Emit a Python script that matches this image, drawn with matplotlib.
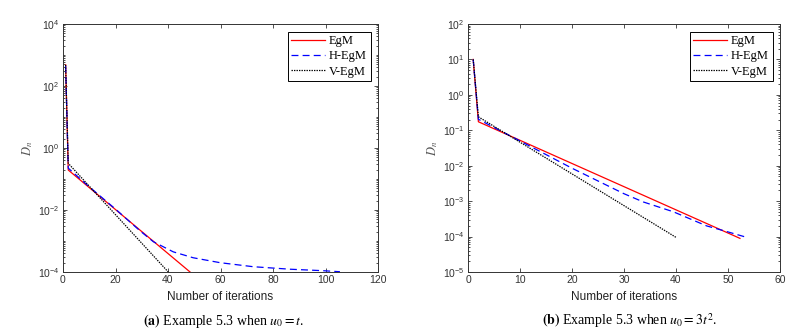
import numpy as np
import matplotlib
matplotlib.use("Agg")
import matplotlib.pyplot as plt
from matplotlib.ticker import LogLocator, NullFormatter, FixedLocator

plt.rcParams['font.family'] = ['Liberation Sans', 'DejaVu Sans']
plt.rcParams['mathtext.fontset'] = 'stix'
plt.rcParams['lines.scale_dashes'] = False

# Data, panel (a): Example 5.3 when u0 = t
a_egm_x = [1, 2, 48.4]
a_egm_y = [480, 0.195, 1.0e-4]
a_hegm_x = [1, 2, 10, 20, 29.3, 34.4, 42, 49.6, 59.8, 72.5, 86.5, 99.2, 105.5]
a_hegm_y = [450, 0.224, 0.056, 0.0107, 2.14e-3, 9.5e-4, 4.47e-4, 2.88e-4,
            2.0e-4, 1.48e-4, 1.23e-4, 1.10e-4, 1.02e-4]
a_vegm_x = [1, 2, 40.1]
a_vegm_y = [480, 0.32, 1.0e-4]

# Data, panel (b): Example 5.3 when u0 = 3t^2
b_egm_x = [1, 2, 52.3]
b_egm_y = [10, 0.174, 8.9e-5]
b_hegm_x = [1, 2, 10, 20, 30, 33.7, 39.5, 45.9, 49.8, 53.6]
b_hegm_y = [10, 0.204, 0.05, 8.5e-3, 1.62e-3, 9.5e-4, 5.0e-4, 2.0e-4, 1.38e-4, 9.5e-5]
b_vegm_x = [1, 2, 40]
b_vegm_y = [10, 0.24, 9.5e-5]

labels = ['EgM', 'H-EgM', 'V-EgM']
captions = [r'$\mathbf{(a)}$ Example 5.3 when $u_0 = t$.',
            r'$\mathbf{(b)}$ Example 5.3 when $u_0 = 3t^2$.']

fig = plt.figure(figsize=(8, 3.33), dpi=100)
W, H = 800, 333
ax1 = fig.add_axes([63 / W, 61 / H, 315 / W, 248 / H])
ax2 = fig.add_axes([468 / W, 61 / H, 312 / W, 248 / H])

edge = '#333333'


def style(ax, xmax, xstep, ymin, ymax, ystep):
    ax.set_yscale('log')
    ax.set_xlim(0, xmax)
    ax.set_ylim(10.0 ** ymin, 10.0 ** ymax)
    ax.set_xticks(np.arange(0, xmax + 1, xstep))
    ax.yaxis.set_major_locator(FixedLocator(10.0 ** np.arange(ymin, ymax + 1, ystep)))
    ax.yaxis.set_minor_locator(LogLocator(base=10, subs=np.arange(1, 10), numticks=50))
    ax.yaxis.set_minor_formatter(NullFormatter())
    ax.tick_params(which='both', direction='in', top=True, right=True,
                   labelsize=7.5, colors=edge, width=0.6, pad=2.5)
    ax.tick_params(which='major', length=3)
    ax.tick_params(which='minor', length=1.6)
    for s in ax.spines.values():
        s.set_color(edge)
        s.set_linewidth(0.7)
    ax.set_xlabel('Number of iterations', fontsize=8.5, color='#222222')
    ax.xaxis.set_label_coords(0.5, -19 / 248)
    ax.set_ylabel(r'$D_n$', fontsize=9, color='#555555')
    ax.yaxis.set_label_coords(-28 / 315, 0.5)


def draw(ax, ex, ey, hx, hy, vx, vy):
    ax.plot(ex, ey, color='#ff0000', lw=0.9, label=labels[0])
    ax.plot(hx, hy, color='#0000ff', lw=0.9, dashes=(5, 3), label=labels[1])
    ax.plot(vx, vy, color='black', lw=0.9, dashes=(1, 0.8), label=labels[2])
    leg = ax.legend(loc='upper right', prop={'family': 'Liberation Serif', 'size': 9},
                    fancybox=False, edgecolor='black', framealpha=1,
                    handlelength=2.7, handletextpad=0.3, borderpad=0.3,
                    labelspacing=0.25, borderaxespad=0.6)
    leg.get_frame().set_linewidth(0.7)


draw(ax1, a_egm_x, a_egm_y, a_hegm_x, a_hegm_y, a_vegm_x, a_vegm_y)
style(ax1, 120, 20, -4, 4, 2)
draw(ax2, b_egm_x, b_egm_y, b_hegm_x, b_hegm_y, b_vegm_x, b_vegm_y)
style(ax2, 60, 10, -5, 2, 1)

fig.text(224 / W, 1 - 321 / H, captions[0], ha='center', va='center',
         fontsize=10, family='Liberation Serif')
fig.text(630 / W, 1 - 321 / H, captions[1], ha='center', va='center',
         fontsize=10, family='Liberation Serif')

fig.savefig('out.png', dpi=100)
